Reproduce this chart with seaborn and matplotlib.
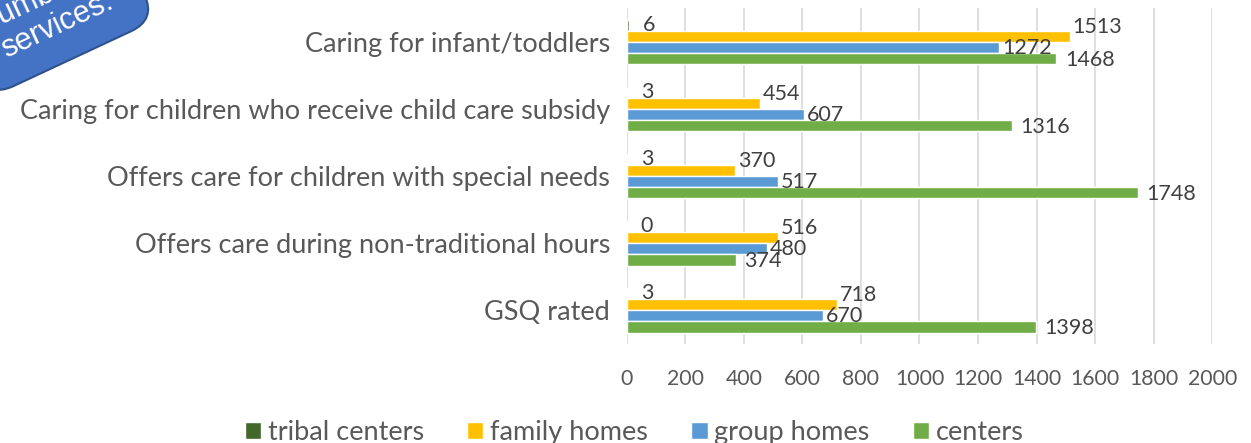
import pandas as pd
import seaborn as sns
import matplotlib.pyplot as plt

categories = [
    "Caring for infant/toddlers",
    "Caring for children who receive child care subsidy",
    "Offers care for children with special needs",
    "Offers care during non-traditional hours",
    "GSQ rated",
]
series = ["tribal centers", "family homes", "group homes", "centers"]
tribal_centers = [6, 3, 3, 0, 3]
family_homes = [1513, 454, 370, 516, 718]
group_homes = [1272, 607, 517, 480, 670]
centers = [1468, 1316, 1748, 374, 1398]
x_ticks = [0, 200, 400, 600, 800, 1000, 1200, 1400, 1600, 1800, 2000]

colors = ["#43682B", "#FFC000", "#5B9BD5", "#70AD47"]

rows = []
for name, vals in zip(series, [tribal_centers, family_homes, group_homes, centers]):
    for cat, v in zip(categories, vals):
        rows.append({"category": cat, "series": name, "value": v})
df = pd.DataFrame(rows)

sns.set_style("white")
plt.rcParams["font.family"] = ["Lato", "DejaVu Sans"]

fig = plt.figure(figsize=(12.51, 4.43), dpi=100)
ax = fig.add_axes([0.501, 0.224, 0.468, 0.757])

sns.barplot(data=df, y="category", x="value", hue="series", order=categories,
            hue_order=series, palette=colors, width=0.667, orient="h",
            saturation=1, ax=ax)

# data labels, nudged a bit like the original
for i, cont in enumerate(ax.containers):
    dx = [10, 2, 2, 6][i]
    dy = [0, 7, 0, -1][i]
    for bar, v in zip(cont, cont.datavalues):
        ax.annotate(f"{int(v)}", (bar.get_width(), bar.get_y() + bar.get_height() / 2),
                    xytext=(dx, dy), textcoords="offset points", ha="left",
                    va="center", fontsize=15.5, color="#404040")

ax.set_xlim(0, 2000)
ax.set_ylim(4.5, -0.5)
ax.set_xticks(x_ticks)
ax.tick_params(axis="x", labelsize=15.3, labelcolor="#595959", length=0, pad=18)
ax.tick_params(axis="y", labelsize=19.5, labelcolor="#595959", length=0, pad=12)
ax.xaxis.grid(True, color="#D9D9D9", linewidth=1.2)
ax.set_axisbelow(True)
for s in ax.spines.values():
    s.set_visible(False)
ax.set_xlabel("")
ax.set_ylabel("")

ax.legend(loc="lower center", bbox_to_anchor=(0.507, -0.06), bbox_transform=fig.transFigure,
          ncol=4, frameon=False, fontsize=19.5, handlelength=0.6, handleheight=0.6,
          columnspacing=1.6, handletextpad=0.25, labelcolor="#595959")

# cropped callout shape in the top left corner
fig.text(0.04, 0.975, "Number of\nservices.", rotation=25, rotation_mode="anchor",
         ha="center", va="center", color="white", fontsize=22,
         family="Liberation Sans", linespacing=1.1,
         bbox=dict(boxstyle="round,pad=0.7,rounding_size=0.9", fc="#4472C4", ec="#2F528F", lw=1.5))

fig.savefig("out.png", dpi=100)
